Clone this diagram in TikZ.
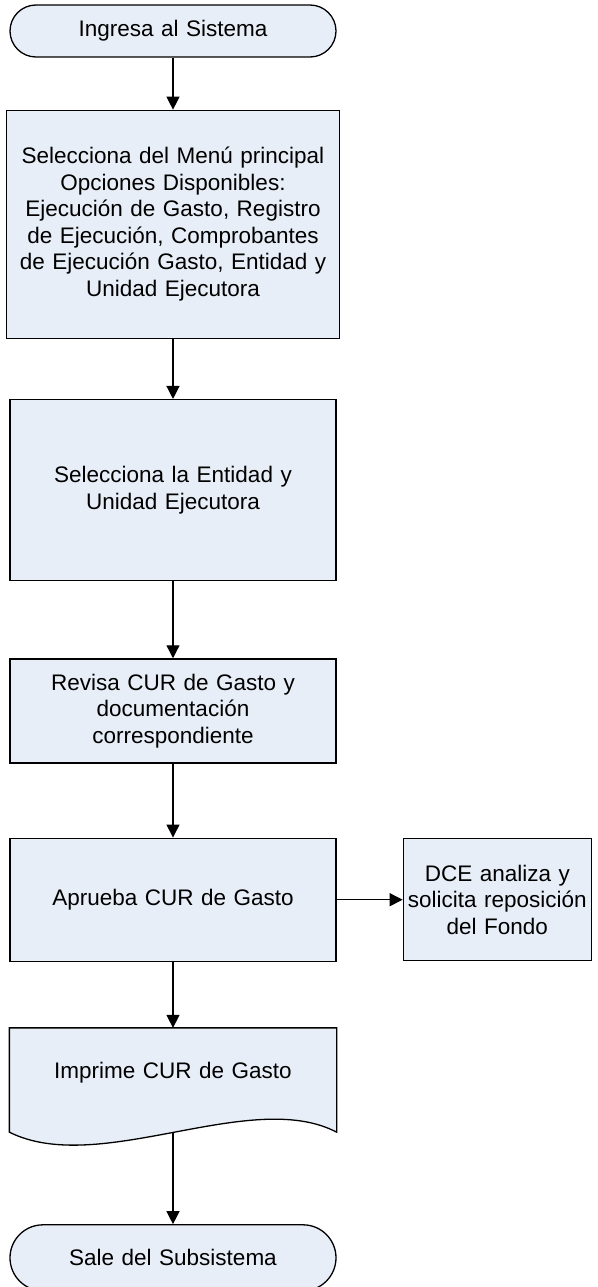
\documentclass[tikz,border=0pt]{standalone}
\usepackage{fontspec}
\setmainfont{Liberation Sans}
\usepackage{tikz}
\usetikzlibrary{positioning}
\usetikzlibrary{backgrounds}
\usetikzlibrary{arrows.meta}
\definecolor{boxfill}{RGB}{232,238,247}
\tikzstyle{block} = [rectangle, draw, fill=boxfill, line width=1.3pt,
    text width=326pt, inner sep=0pt, text centered,
    font=\fontsize{22.5pt}{26.5pt}\selectfont]
\tikzstyle{term} = [block, rounded corners=26pt, minimum height=52pt]
\tikzstyle{docbox} = [block, draw=none, fill=none, minimum height=88pt]
\tikzstyle{docshape} = [draw, fill=boxfill, line width=1.3pt]
\tikzstyle{line} = [draw, line width=1.3pt, -{Triangle[length=13pt,width=13pt]}]

\begin{document}
\begin{tikzpicture}
  \useasboundingbox (0,0) rectangle (597pt,-1287pt);

  \node [term] (start) at (173pt,-31pt) {Ingresa al Sistema};
  \node [block, text width=333pt, minimum height=228pt, below=52pt of start] (menu)
    {Selecciona del Menú principal\\ Opciones Disponibles:\\ Ejecución de Gasto, Registro\\
     de Ejecución, Comprobantes\\ de Ejecución Gasto, Entidad y\\ Unidad Ejecutora};
  \node [block, minimum height=181pt, below=60pt of menu] (entidad)
    {Selecciona la Entidad y\\ Unidad Ejecutora};
  \node [block, minimum height=104pt, below=77pt of entidad] (revisa)
    {Revisa CUR de Gasto y\\ documentación\\ correspondiente};
  \node [block, minimum height=123pt, below=74pt of revisa] (aprueba)
    {Aprueba CUR de Gasto};
  \node [block, text width=188pt, minimum height=122pt, right=66pt of aprueba] (dce)
    {DCE analiza y\\ solicita reposición\\ del Fondo};
  \node [docbox, below=66pt of aprueba] (print) {Imprime CUR de Gasto};
  \coordinate (printout) at ([yshift=-15pt]print.south);
  \node [term, rounded corners=33pt, minimum height=66pt, below=107pt of print] (fin)
    {Sale del Subsistema};

  % document shape of the print step
  \begin{scope}[on background layer]
    \path [docshape] (print.north west) -- (print.north east)
      -- ([yshift=-15pt]print.south east)
      .. controls +(-86pt,45pt) and +(90pt,-45pt) .. ([yshift=-15pt]print.south west)
      -- cycle;
  \end{scope}

  \path [line] (start) -- (menu);
  \path [line] (menu) -- (entidad);
  \path [line] (entidad) -- (revisa);
  \path [line] (revisa) -- (aprueba);
  \path [line] (aprueba) -- (dce);
  \path [line] (aprueba) -- (print);
  \path [line] (printout) -- (fin);

\end{tikzpicture}
\end{document}
